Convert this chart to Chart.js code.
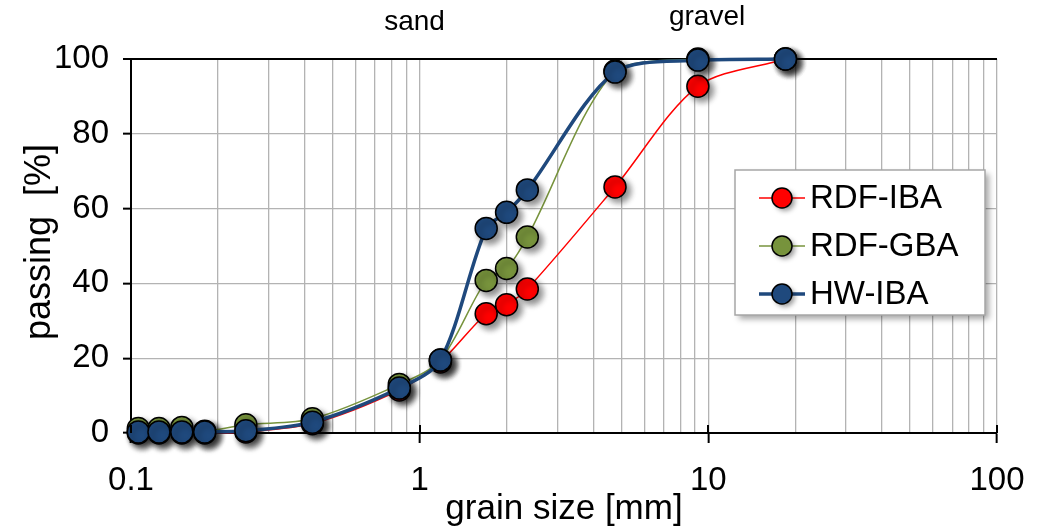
<!DOCTYPE html>
<html>
<head>
<meta charset="utf-8">
<script src="https://cdn.jsdelivr.net/npm/chart.js@4/dist/chart.umd.min.js"></script>
<style>
  html, body { margin: 0; padding: 0; background: #fff; }
  #wrap { width: 1039px; height: 530px; position: relative; }
</style>
</head>
<body>
<div id="wrap"><canvas id="c" width="1039" height="530"></canvas></div>
<script>
// Sieve sizes (mm) and cumulative passing (%) for the three ash samples
const sieveSizes = [0.106, 0.125, 0.15, 0.18, 0.25, 0.425, 0.85, 1.18, 1.7, 2.0, 2.36, 4.75, 9.2, 18.5];
const rdfIba  = [0, 0, 0, 0, 0.3, 2.5, 11.5, 19, 31.9, 34.3, 38.5, 65.8, 92.7, 100];
const rdfGba  = [1.2, 1.2, 1.5, 0.5, 2.2, 3.8, 13, 19.5, 40.8, 44, 52.4, 96.8, 100, 100];
const hwIba   = [0.3, 0.3, 0.3, 0.3, 0.6, 2.9, 12, 19.5, 54.7, 59, 65, 96.5, 99.7, 100];

const seriesNames = ['RDF-IBA', 'RDF-GBA', 'HW-IBA'];
const yTicks = [0, 20, 40, 60, 80, 100];
const xDecades = [0.1, 1, 10, 100];
const zoneLabels = [{ text: 'sand', at: 0.96 }, { text: 'gravel', at: 9.9 }];

const FONT = "'Liberation Sans', Arial, sans-serif";

// log-scale grid: every integer multiple within each decade
const xGridValues = [];
for (let d = 0; d < 3; d++) {
  const base = xDecades[d];
  for (let m = 1; m <= 9; m++) xGridValues.push(+(base * m).toPrecision(6));
}
xGridValues.push(100);
const isDecade = v => xDecades.some(d => Math.abs(d - v) < 1e-9);

const pts = vals => sieveSizes.map((s, i) => ({ x: s, y: vals[i] }));

// soft drop shadow under every marker
const origPointDraw = Chart.PointElement.prototype.draw;
Chart.PointElement.prototype.draw = function (ctx, area) {
  ctx.save();
  ctx.shadowColor = 'rgba(0,0,0,0.45)';
  ctx.shadowBlur = 6;
  ctx.shadowOffsetX = 4;
  ctx.shadowOffsetY = 4;
  origPointDraw.call(this, ctx, area);
  ctx.restore();
};

const styles = [
  { color: '#ff0000', width: 1.5, order: 2 },
  { color: '#77933c', width: 1.5, order: 1 },
  { color: '#1f497d', width: 3.5, order: 0 }
];
const seriesData = [rdfIba, rdfGba, hwIba];

const datasets = seriesNames.map((name, i) => ({
  label: name,
  data: pts(seriesData[i]),
  borderColor: styles[i].color,
  backgroundColor: styles[i].color,
  borderWidth: styles[i].width,
  pointBackgroundColor: styles[i].color,
  pointBorderColor: '#000',
  pointBorderWidth: 1.5,
  pointRadius: 11,
  pointHoverRadius: 11,
  tension: 0.3,
  order: styles[i].order,
  clip: false
}));

const overlay = {
  id: 'overlay',
  afterDraw(chart) {
    const { ctx, chartArea, scales } = chart;
    const x = scales.x;
    ctx.save();
    // inner half of the major x tick marks (cross style)
    ctx.strokeStyle = '#000';
    ctx.lineWidth = 2;
    xDecades.forEach(v => {
      const px = Math.round(x.getPixelForValue(v));
      ctx.beginPath();
      ctx.moveTo(px, chartArea.bottom);
      ctx.lineTo(px, chartArea.bottom - 8);
      ctx.stroke();
    });
    ctx.fillStyle = '#000';
    // y axis title
    ctx.save();
    ctx.translate(40, 242);
    ctx.rotate(-Math.PI / 2);
    ctx.font = '36px ' + FONT;
    ctx.textAlign = 'center';
    ctx.textBaseline = 'middle';
    ctx.fillText('passing  [%]', 0, 0);
    ctx.restore();
    // zone labels above the plot
    ctx.font = '28px ' + FONT;
    ctx.textAlign = 'center';
    ctx.textBaseline = 'middle';
    zoneLabels.forEach((z, i) => {
      ctx.fillText(z.text, x.getPixelForValue(z.at), i === 0 ? 22 : 17);
    });
    // legend box
    const bx = 735, by = 170, bw = 250, bh = 145;
    ctx.save();
    ctx.shadowColor = 'rgba(0,0,0,0.35)';
    ctx.shadowBlur = 6;
    ctx.shadowOffsetX = 4;
    ctx.shadowOffsetY = 4;
    ctx.fillStyle = '#fff';
    ctx.fillRect(bx, by, bw, bh);
    ctx.restore();
    ctx.strokeStyle = '#a6a6a6';
    ctx.lineWidth = 1.5;
    ctx.strokeRect(bx, by, bw, bh);
    seriesNames.forEach((name, i) => {
      const cy = by + 28 + i * 48;
      const st = styles[i];
      ctx.strokeStyle = st.color;
      ctx.lineWidth = st.width;
      ctx.beginPath();
      ctx.moveTo(759, cy);
      ctx.lineTo(805, cy);
      ctx.stroke();
      ctx.save();
      ctx.shadowColor = 'rgba(0,0,0,0.4)';
      ctx.shadowBlur = 5;
      ctx.shadowOffsetX = 3;
      ctx.shadowOffsetY = 3;
      ctx.beginPath();
      ctx.arc(782, cy, 10, 0, Math.PI * 2);
      ctx.fillStyle = st.color;
      ctx.fill();
      ctx.restore();
      ctx.beginPath();
      ctx.arc(782, cy, 10, 0, Math.PI * 2);
      ctx.strokeStyle = '#000';
      ctx.lineWidth = 1.5;
      ctx.stroke();
      ctx.fillStyle = '#000';
      ctx.font = '33px ' + FONT;
      ctx.textAlign = 'left';
      ctx.textBaseline = 'middle';
      ctx.fillText(name, 810, cy + 1);
    });
    ctx.restore();
  }
};

new Chart(document.getElementById('c'), {
  type: 'line',
  data: { datasets },
  plugins: [overlay],
  options: {
    responsive: false,
    animation: false,
    events: [],
    layout: { padding: { left: 0, right: 42, top: 59, bottom: 0 } },
    plugins: { legend: { display: false }, tooltip: { enabled: false } },
    scales: {
      x: {
        type: 'logarithmic',
        min: 0.1,
        max: 100,
        afterBuildTicks(scale) {
          scale.ticks = xGridValues.map(v => ({ value: v, major: isDecade(v) }));
        },
        afterFit(scale) {
          scale.height = 97;
          scale.paddingLeft = 0;
          scale.paddingRight = 0;
        },
        ticks: {
          autoSkip: false,
          maxRotation: 0,
          padding: 18,
          color: '#000',
          font: { family: FONT, size: 33 },
          callback(value) {
            if (!isDecade(value)) return '';
            return value < 1 ? '0.1' : String(Math.round(value));
          }
        },
        grid: {
          color: '#b3b3b3',
          lineWidth: 1.3,
          drawTicks: true,
          tickLength: 10,
          tickWidth: 2,
          tickColor: ctx => (ctx.tick && isDecade(ctx.tick.value)) ? '#000' : 'rgba(0,0,0,0)'
        },
        border: { color: '#000', width: 2 },
        title: {
          display: true,
          text: 'grain size [mm]',
          color: '#000',
          font: { family: FONT, size: 35 },
          padding: { top: 0, bottom: 0 }
        }
      },
      y: {
        type: 'linear',
        min: 0,
        max: 100,
        afterBuildTicks(scale) { scale.ticks = yTicks.map(v => ({ value: v })); },
        afterFit(scale) { scale.width = 131; },
        ticks: {
          padding: 14,
          color: '#000',
          font: { family: FONT, size: 33 }
        },
        grid: {
          color: ctx => (ctx.tick && ctx.tick.value === 100) ? '#000' : '#b3b3b3',
          lineWidth: ctx => (ctx.tick && ctx.tick.value === 100) ? 2 : 1.3,
          tickLength: 8,
          tickWidth: 2,
          tickColor: '#000'
        },
        border: { color: '#000', width: 2 },
        title: { display: false }
      }
    }
  }
});
</script>
</body>
</html>
